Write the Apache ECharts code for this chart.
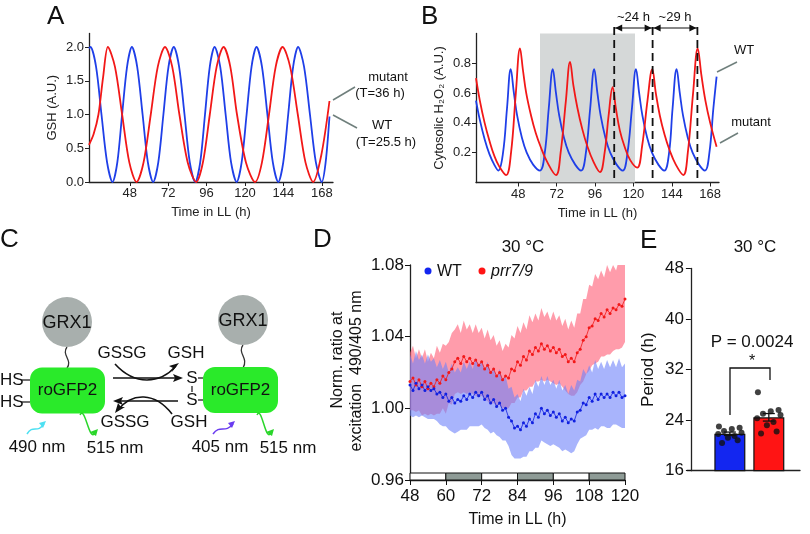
<!DOCTYPE html>
<html>
<head>
<meta charset="utf-8">
<script src="https://cdn.jsdelivr.net/npm/echarts@6.0.0/dist/echarts.min.js"></script>
<style>html,body{margin:0;padding:0;background:#fff}#main{width:810px;height:534px}</style>
</head>
<body>
<div id="main"></div>
<script>
// ---- panel A: model GSH (time h, value) ----
var gshWT = [[22.5,1.98],[23.4,2],[26.9,1.71],[30.3,1],[33.8,0.29],[37.2,0],[40.2,0.29],[43.2,1],[46.3,1.71],[49.3,2],[52.6,1.71],[56,1],[59.3,0.29],[62.6,0],[65.8,0.29],[69,1],[72.2,1.71],[75.5,2],[78.8,1.71],[82.2,1],[85.5,0.29],[88.9,0],[92,0.29],[95,1],[98,1.71],[101,2],[104.5,1.71],[107.9,1],[111.3,0.29],[114.8,0],[117.9,0.29],[121,1],[124.1,1.71],[127.2,2],[130.6,1.71],[134,1],[137.4,0.29],[140.8,0],[143.9,0.29],[147,1],[150.1,1.71],[153.2,2],[156.9,1.71],[160.6,1],[164.3,0.29],[168,0],[170.4,0.29],[172.8,0.97]];
var gshMut = [[22.5,0.55],[25.4,0.71],[28.4,1],[31.3,1.55],[34.3,2],[38.7,1.71],[43.2,1],[47.7,0.29],[52.2,0],[56.6,0.29],[61.1,1],[65.5,1.71],[70,2],[74.5,1.71],[79,1],[84.2,0.29],[89.5,0],[93.7,0.29],[98,1],[102.3,1.71],[106.6,2],[110.8,1.71],[115,1],[120.6,0.29],[126.3,0],[130.6,0.29],[135,1],[139.2,1.71],[143.5,2],[148.2,1.71],[153,1],[157.8,0.29],[162.6,0],[167.7,0.4],[172.8,1.2]];
var ticksA = [48,72,96,120,144,168];
var ticksAy = [0,0.5,1,1.5,2];

// ---- panel B: model cytosolic H2O2 ----
var h2o2WT = [[21.6,0.55],[24,0.42],[27,0.29],[30,0.19],[33,0.12],[35.5,0.08],[38.5,0.2],[41,0.5],[43.3,0.76],[45.3,0.6],[47.3,0.45],[50.3,0.3],[53.3,0.2],[57.3,0.12],[61.6,0.08],[64.6,0.2],[67.1,0.5],[69.6,0.76],[71.6,0.6],[73.6,0.45],[76.6,0.3],[79.6,0.2],[83.6,0.12],[87.3,0.08],[90.3,0.2],[93,0.5],[95.5,0.76],[97.5,0.6],[99.5,0.45],[102.5,0.3],[105.5,0.2],[109.5,0.12],[113.3,0.08],[116.3,0.2],[119.1,0.5],[121.6,0.76],[123.6,0.6],[125.6,0.45],[128.6,0.3],[131.6,0.2],[135.6,0.12],[139.3,0.08],[142.3,0.2],[144.5,0.5],[147,0.76],[149,0.6],[151,0.45],[154,0.3],[157,0.2],[161,0.12],[164.7,0.08],[167.5,0.2],[170,0.5],[172,0.71]];
var h2o2Mut = [[21.6,0.7],[24,0.55],[27,0.4],[30,0.28],[33,0.18],[36,0.11],[40.4,0.05],[43.5,0.2],[46.5,0.6],[49.1,0.9],[51,0.75],[53,0.6],[56,0.45],[59,0.33],[62,0.24],[66,0.14],[71.6,0.05],[74.5,0.2],[77.8,0.55],[80.4,0.81],[82.5,0.65],[85,0.5],[88,0.36],[91,0.25],[95,0.14],[99.1,0.07],[102,0.2],[104.5,0.45],[107,0.64],[109,0.5],[111.5,0.35],[114.5,0.24],[118,0.15],[122.4,0.1],[125.5,0.25],[128.8,0.55],[131.8,0.76],[134,0.6],[136.5,0.45],[139.5,0.32],[142.5,0.22],[146.5,0.12],[151.2,0.05],[154,0.2],[157.3,0.6],[160.2,0.9],[162.5,0.72],[165,0.55],[168,0.4],[172,0.24]];
var shadeB = [61.6, 121];
var dashB = [108, 132, 160];
var periodLabelsB = ['~24 h', '~29 h'];

// ---- panel D: roGFP2 ratio, hourly 48..120 h ----
var hoursD = [];
for (var h = 48; h <= 120; h++) hoursD.push(h);
var ratioMut = [1.015,1.017,1.013,1.016,1.012,1.015,1.011,1.014,1.012,1.016,1.014,1.018,1.016,1.020,1.022,1.026,1.028,1.025,1.029,1.026,1.028,1.025,1.027,1.024,1.026,1.022,1.024,1.020,1.022,1.018,1.020,1.016,1.018,1.017,1.022,1.021,1.026,1.024,1.029,1.027,1.032,1.030,1.034,1.032,1.036,1.033,1.035,1.032,1.034,1.031,1.033,1.029,1.030,1.026,1.028,1.026,1.031,1.033,1.038,1.040,1.045,1.046,1.050,1.049,1.053,1.051,1.055,1.053,1.056,1.055,1.058,1.057,1.061];
var sdMut = [0.016,0.018,0.015,0.017,0.016,0.018,0.015,0.017,0.016,0.019,0.017,0.018,
  0.019,0.017,0.02,0.018,0.019,0.017,0.02,0.018,0.019,0.017,0.02,0.018,
  0.019,0.017,0.02,0.018,0.019,0.017,0.018,0.016,0.018,0.017,0.019,0.018,
  0.02,0.018,0.019,0.017,0.02,0.018,0.019,0.017,0.02,0.018,0.019,0.017,
  0.02,0.018,0.019,0.017,0.02,0.018,0.021,0.019,0.022,0.02,0.023,0.021,
  0.024,0.022,0.025,0.023,0.024,0.022,0.025,0.023,0.024,0.022,0.025,0.023,0.024];
var ratioWT = [1.013,1.010,1.014,1.011,1.013,1.010,1.012,1.010,1.011,1.008,1.009,1.006,1.008,1.004,1.006,1.003,1.005,1.004,1.007,1.005,1.008,1.006,1.009,1.007,1.009,1.005,1.007,1.003,1.005,1.001,1.003,0.999,1.000,0.995,0.993,0.989,0.990,0.988,0.992,0.990,0.994,0.992,0.997,0.995,1.000,0.997,0.999,0.996,0.998,0.995,0.997,0.993,0.995,0.992,0.994,0.993,0.998,0.999,1.003,1.002,1.006,1.004,1.008,1.005,1.008,1.006,1.008,1.006,1.009,1.007,1.009,1.006,1.007];
var sdWT = [0.017,0.015,0.018,0.016,0.017,0.015,0.018,0.016,0.017,0.015,0.018,0.016,
  0.018,0.016,0.019,0.017,0.018,0.016,0.019,0.017,0.018,0.016,0.019,0.017,
  0.018,0.016,0.019,0.017,0.018,0.016,0.019,0.017,0.018,0.016,0.019,0.017,
  0.018,0.016,0.019,0.017,0.018,0.016,0.019,0.017,0.018,0.016,0.019,0.017,
  0.018,0.016,0.019,0.017,0.018,0.016,0.019,0.017,0.018,0.016,0.019,0.017,
  0.018,0.016,0.019,0.017,0.018,0.016,0.019,0.017,0.018,0.016,0.019,0.017,0.018];
// light/dark bar: [start, end, dark?]
var ldBars = [[48,60,0],[60,72,1],[72,84,0],[84,96,1],[96,108,0],[108,120,1]];

// ---- panel E: periods ----
var periodWT = [23.0,22.8,22.6,22.3,22.0,21.8,21.5,21.2,20.8,20.4];
var periodMut = [28.4,25.6,25.4,25.0,24.8,24.3,23.7,23.2,22.2,21.9];
var jitter = [-0.28,0.25,0.05,-0.15,0.3,-0.3,0.12,-0.05,0.2,-0.2];
var pText = 'P = 0.0024';

function mean(a){var s=0;a.forEach(function(v){s+=v;});return s/a.length;}
function sem(a){var m=mean(a),s=0;a.forEach(function(v){s+=(v-m)*(v-m);});return Math.sqrt(s/(a.length-1))/Math.sqrt(a.length);}

var FONT = 'Liberation Sans';
var BLUE = '#1f3fe8', RED = '#f21818';
var chart = echarts.init(document.getElementById('main'));

function zipD(vals){ return hoursD.map(function(t,i){return [t, vals[i]];}); }

// band polygon (mean +- sd) drawn in one custom item
function bandSeries(vals, sds, color){
  return {type:'custom', xAxisIndex:2, yAxisIndex:2, data:[[0]], silent:true,
    renderItem:function(params, api){
      var pts = [];
      hoursD.forEach(function(t,i){ pts.push(api.coord([t, vals[i] + sds[i]])); });
      for (var i = hoursD.length - 1; i >= 0; i--) pts.push(api.coord([hoursD[i], vals[i] - sds[i]]));
      var cs = params.coordSys;
      return {type:'polygon', shape:{points:pts}, style:{fill:color},
        clipPath:{type:'rect', shape:{x:cs.x, y:cs.y, width:cs.width, height:cs.height}}};
    }};
}

var axBase = {axisLine:{lineStyle:{color:'#222',width:1.3}}, axisTick:{lineStyle:{color:'#222'}}, splitLine:{show:false}};

function tx(text, x, y, size, opt) {
  opt = opt || {};
  return {type:'text', z:50, rotation: opt.rot || 0, x:x, y:y,
    style:{text:text, x:0, y:0, fill: opt.fill || '#111', font: (opt.style||'') + ' ' + size + 'px "' + FONT + '"',
      align: opt.align || 'center', verticalAlign: opt.va || 'middle'}};
}

var option = {
  animation:false,
  textStyle:{fontFamily:FONT},
  grid:[
    {left:89, top:33.5, width:244, height:148.5},
    {left:476, top:33.5, width:243, height:149},
    {left:410, top:265, width:215, height:215},
    {left:687, top:268.5, width:113, height:202.2}
  ],
  xAxis:[
    Object.assign({}, axBase, {gridIndex:0, type:'value', min:22.5, max:175,
      name:'Time in LL (h)', nameLocation:'middle', nameGap:24, nameTextStyle:{fontSize:13,color:'#222'},
      axisLabel:{customValues:ticksA, fontSize:13, color:'#222', margin:5}, axisTick:{customValues:ticksA, length:4, lineStyle:{color:'#222'}}}),
    Object.assign({}, axBase, {gridIndex:1, type:'value', min:21.6, max:173.5,
      name:'Time in LL (h)', nameLocation:'middle', nameGap:24, nameTextStyle:{fontSize:13,color:'#222'},
      axisLabel:{customValues:ticksA, fontSize:13, color:'#222', margin:5}, axisTick:{customValues:ticksA, length:4, lineStyle:{color:'#222'}}}),
    Object.assign({}, axBase, {gridIndex:2, type:'value', min:48, max:120, interval:12,
      name:'Time in LL (h)', nameLocation:'middle', nameGap:32, nameTextStyle:{fontSize:16,color:'#111'},
      axisLabel:{fontSize:17, color:'#111', margin:8}, axisTick:{length:5, lineStyle:{color:'#111'}}}),
    Object.assign({}, axBase, {gridIndex:3, type:'value', min:-0.1, max:2.8,
      axisLabel:{show:false}, axisTick:{show:false}})
  ],
  yAxis:[
    Object.assign({}, axBase, {gridIndex:0, type:'value', min:0, max:2.2,
      name:'GSH (A.U.)', nameLocation:'middle', nameGap:30, nameTextStyle:{fontSize:13,color:'#222'},
      axisLabel:{customValues:ticksAy, fontSize:13, color:'#222', margin:5, formatter:function(v){return v.toFixed(1);}},
      axisTick:{customValues:ticksAy, length:4, lineStyle:{color:'#222'}}}),
    Object.assign({}, axBase, {gridIndex:1, type:'value', min:0, max:1, interval:0.2,
      name:'Cytosolic H\u2082O\u2082 (A.U.)', nameLocation:'middle', nameGap:30, nameTextStyle:{fontSize:13,color:'#222'},
      axisLabel:{fontSize:13, color:'#222', margin:5, showMinLabel:false, showMaxLabel:false, formatter:function(v){return v.toFixed(1);}},
      axisTick:{length:4, lineStyle:{color:'#222'}}}),
    Object.assign({}, axBase, {gridIndex:2, type:'value', min:0.96, max:1.08, interval:0.04,
      axisLabel:{fontSize:17, color:'#111', margin:6, formatter:function(v){return v.toFixed(2);}},
      axisTick:{length:5, lineStyle:{color:'#111'}}}),
    Object.assign({}, axBase, {gridIndex:3, type:'value', min:16, max:48, interval:8,
      name:'Period (h)', nameLocation:'middle', nameGap:30, nameTextStyle:{fontSize:17,color:'#111'},
      axisLabel:{fontSize:17, color:'#111', margin:3}, axisTick:{length:5, lineStyle:{color:'#111'}}})
  ],
  series:[
    {type:'line', xAxisIndex:0, yAxisIndex:0, data:gshWT, smooth:0.3, symbol:'none', lineStyle:{color:BLUE,width:1.8}},
    {type:'line', xAxisIndex:0, yAxisIndex:0, data:gshMut, smooth:0.3, symbol:'none', lineStyle:{color:RED,width:1.8}},
    {type:'line', xAxisIndex:1, yAxisIndex:1, data:h2o2WT, smooth:0.4, symbol:'none', lineStyle:{color:BLUE,width:1.8},
      markArea:{silent:true, itemStyle:{color:'#d5d8d8'}, data:[[{xAxis:shadeB[0]},{xAxis:shadeB[1]}]]}},
    {type:'line', xAxisIndex:1, yAxisIndex:1, data:h2o2Mut, smooth:0.4, symbol:'none', lineStyle:{color:RED,width:1.8}},
    // D bands and means
    bandSeries(ratioMut, sdMut, 'rgba(255,95,120,0.62)'),
    {type:'line', xAxisIndex:2, yAxisIndex:2, data:zipD(ratioMut), symbol:'circle', symbolSize:3,
      lineStyle:{color:RED,width:0.8}, itemStyle:{color:RED}},
    bandSeries(ratioWT, sdWT, 'rgba(110,130,250,0.6)'),
    {type:'line', xAxisIndex:2, yAxisIndex:2, data:zipD(ratioWT), symbol:'circle', symbolSize:3,
      lineStyle:{color:'#1020e0',width:0.8}, itemStyle:{color:'#1020e0'}},
    {type:'custom', xAxisIndex:2, yAxisIndex:2, data:ldBars, z:10,
      renderItem:function(params, api){
        var p0 = api.coord([api.value(0), 0.9639]), p1 = api.coord([api.value(1), 0.96]);
        return {type:'rect', shape:{x:p0[0], y:p0[1], width:p1[0]-p0[0], height:p1[1]-p0[1]},
          style:{fill: api.value(2) ? '#8e9b96' : '#ffffff', stroke:'#111', lineWidth:1}};
      }},
    // E
    {type:'bar', xAxisIndex:3, yAxisIndex:3, barWidth:31,
      data:[{value:[1, mean(periodWT)], itemStyle:{color:'#1326f0'}}, {value:[2, mean(periodMut)], itemStyle:{color:'#ff1414'}}],
      itemStyle:{borderColor:'#111', borderWidth:1.2}},
    {type:'custom', xAxisIndex:3, yAxisIndex:3, z:5,
      data:[[1, mean(periodWT), sem(periodWT)], [2, mean(periodMut), sem(periodMut)]],
      renderItem:function(params, api){
        var x = api.value(0), m = api.value(1), s = api.value(2);
        var top = api.coord([x, m + s]), bot = api.coord([x, m - s]);
        var st = {stroke:'#111', lineWidth:1.3};
        return {type:'group', children:[
          {type:'line', shape:{x1:top[0], y1:top[1], x2:bot[0], y2:bot[1]}, style:st},
          {type:'line', shape:{x1:top[0]-6, y1:top[1], x2:top[0]+6, y2:top[1]}, style:st},
          {type:'line', shape:{x1:bot[0]-6, y1:bot[1], x2:bot[0]+6, y2:bot[1]}, style:st}]};
      }},
    {type:'scatter', xAxisIndex:3, yAxisIndex:3, symbolSize:6, itemStyle:{color:'#111'}, z:6,
      data:periodWT.map(function(v,i){return [1 + jitter[i], v];})},
    {type:'scatter', xAxisIndex:3, yAxisIndex:3, symbolSize:6, itemStyle:{color:'#111'}, z:6,
      data:periodMut.map(function(v,i){return [2 + jitter[i], v];})}
  ]
};
chart.setOption(option);

// annotations
var g = [];
['A','B','C','D','E'].forEach(function(l, i){
  var pos = [[47,17],[421,17],[0,240],[313,240],[640,241]][i];
  g.push(tx(l, pos[0], pos[1], 26, {align:'left'}));
});
// A side labels
g.push({type:'line', shape:{x1:333,y1:100,x2:355,y2:87}, style:{stroke:'#6f7f7c',lineWidth:1.5}});
g.push({type:'line', shape:{x1:333,y1:115,x2:357,y2:128}, style:{stroke:'#6f7f7c',lineWidth:1.5}});
g.push(tx('mutant', 388, 77, 13)); g.push(tx('(T=36 h)', 380, 93, 13));
g.push(tx('WT', 382, 125, 13)); g.push(tx('(T=25.5 h)', 386, 142, 13));
// B side labels
g.push({type:'line', shape:{x1:717,y1:72,x2:737,y2:62}, style:{stroke:'#6f7f7c',lineWidth:1.5}});
g.push({type:'line', shape:{x1:720,y1:143,x2:738,y2:133}, style:{stroke:'#6f7f7c',lineWidth:1.5}});
g.push(tx('WT', 744, 50, 13)); g.push(tx('mutant', 751, 122, 13));
// B dashed lines and period arrows
var dx = dashB.map(function(t){return chart.convertToPixel({xAxisIndex:1}, t);});
var yBase = chart.convertToPixel({yAxisIndex:1}, 0);
dx.forEach(function(x){
  g.push({type:'line', z:40, shape:{x1:x,y1:27,x2:x,y2:yBase}, style:{stroke:'#111',lineWidth:1.8,lineDash:[8,5]}});
});
function arrowHead(x, y, dir){
  return {type:'polygon', z:41, shape:{points:[[x,y],[x-dir*7,y-3.5],[x-dir*7,y+3.5]]}, style:{fill:'#111'}};
}
for (var k = 0; k < 2; k++) {
  var xa = dx[k], xb = dx[k+1];
  g.push({type:'line', z:40, shape:{x1:xa,y1:28,x2:xb,y2:28}, style:{stroke:'#111',lineWidth:1.2}});
  g.push(arrowHead(xa+1, 28, -1)); g.push(arrowHead(xb-1, 28, 1));
  g.push(tx(periodLabelsB[k], (xa+xb)/2, 17, 13));
}
// D titles/legend
g.push(tx('30 \u00b0C', 523, 247, 17));
g.push({type:'circle', z:50, shape:{cx:428,cy:271,r:3.5}, style:{fill:'#1326f0'}});
g.push(tx('WT', 437, 272, 16, {align:'left'}));
g.push({type:'circle', z:50, shape:{cx:482,cy:271,r:3.5}, style:{fill:'#ff1414'}});
g.push(tx('prr7/9', 491, 272, 16, {align:'left', style:'italic'}));
g.push(tx('Norm. ratio at', 338, 360, 16, {rot:Math.PI/2}));
g.push(tx('excitation  490/405 nm', 357, 371, 16, {rot:Math.PI/2}));
// E title, P value, bracket
g.push(tx('30 \u00b0C', 755, 247, 17));
g.push(tx(pText, 752, 342, 17));
g.push({type:'polyline', shape:{points:[[730,415],[730,368],[770,368],[770,380]]}, style:{stroke:'#111',lineWidth:1.3,fill:null}});
g.push(tx('*', 752, 362, 16));

// C schematic
var GREEN = '#2aea2a', GREY = '#a8afad';
[[67,322],[243,320]].forEach(function(c){
  g.push({type:'bezierCurve', shape:{x1:c[0],y1:c[1]+25,cpx1:c[0]-6,cpy1:c[1]+33,cpx2:c[0]+6,cpy2:c[1]+38,x2:c[0],y2:368}, style:{stroke:'#333',lineWidth:1.3,fill:null}});
  g.push({type:'circle', shape:{cx:c[0],cy:c[1],r:25}, style:{fill:GREY}});
  g.push(tx('GRX1', c[0], c[1]+1, 18));
});
g.push({type:'rect', shape:{x:30,y:367.5,width:75,height:46,r:12}, style:{fill:GREEN}});
g.push({type:'rect', shape:{x:203,y:367,width:75,height:46,r:12}, style:{fill:GREEN}});
g.push(tx('roGFP2', 67.5, 390, 17)); g.push(tx('roGFP2', 240.5, 390, 17));
g.push(tx('HS', 0, 380, 17, {align:'left'})); g.push(tx('HS', 0, 402, 17, {align:'left'}));
g.push({type:'line', shape:{x1:22,y1:380,x2:30,y2:380}, style:{stroke:'#111',lineWidth:1.2}});
g.push({type:'line', shape:{x1:22,y1:402,x2:30,y2:402}, style:{stroke:'#111',lineWidth:1.2}});
g.push(tx('S', 192, 378, 17)); g.push(tx('S', 192, 400, 17));
g.push({type:'line', shape:{x1:198,y1:378,x2:203,y2:378}, style:{stroke:'#111',lineWidth:1.2}});
g.push({type:'line', shape:{x1:198,y1:400,x2:203,y2:400}, style:{stroke:'#111',lineWidth:1.2}});
g.push({type:'line', shape:{x1:192,y1:386,x2:192,y2:392}, style:{stroke:'#111',lineWidth:1.2}});
g.push(tx('GSSG', 122, 353, 17)); g.push(tx('GSH', 186, 353, 17));
g.push(tx('GSSG', 125, 422, 17)); g.push(tx('GSH', 189, 422, 17));
var ar = {stroke:'#111', lineWidth:1.6, fill:null};
g.push({type:'line', shape:{x1:113,y1:378,x2:180,y2:378}, style:ar});
g.push({type:'polygon', shape:{points:[[183,378],[173,374],[175,378],[173,382]]}, style:{fill:'#111'}});
g.push({type:'bezierCurve', shape:{x1:115,y1:364,cpx1:135,cpy1:386,cpx2:160,cpy2:384,x2:176,y2:366}, style:ar});
g.push({type:'polygon', shape:{points:[[179,363],[169,366],[173,368],[172,372]]}, style:{fill:'#111'}});
g.push({type:'line', shape:{x1:178,y1:401,x2:117,y2:401}, style:ar});
g.push({type:'polygon', shape:{points:[[113,401],[123,397],[121,401],[123,405]]}, style:{fill:'#111'}});
g.push({type:'bezierCurve', shape:{x1:172,y1:414,cpx1:155,cpy1:392,cpx2:132,cpy2:392,x2:118,y2:410}, style:ar});
g.push({type:'polygon', shape:{points:[[115,413],[118,403],[121,407],[125,407]]}, style:{fill:'#111'}});
function wave(x1,y1,x2,y2,col,up){
  g.push({type:'bezierCurve', shape:{x1:x1,y1:y1,cpx1:x1+(x2-x1)*0.35,cpy1:y1-10,cpx2:x1+(x2-x1)*0.6,cpy2:y2+10,x2:x2,y2:y2}, style:{stroke:col,lineWidth:1.5,fill:null}});
  g.push({type:'polygon', shape:{points: up ? [[x2+2,y2-3],[x2-5,y2-1],[x2-1,y2+4]] : [[x2+1,y2+3],[x2-5,y2-1],[x2+3,y2-4]]}, style:{fill:col}});
}
wave(27,434,44,424,'#4de0f2',true);
wave(80,415,95,433,'#2ad62a',false);
wave(213,434,233,424,'#6a3cf0',true);
wave(257,415,271,433,'#2ad62a',false);
g.push(tx('490 nm', 37, 447, 17)); g.push(tx('515 nm', 115, 448, 17));
g.push(tx('405 nm', 220, 447, 17)); g.push(tx('515 nm', 288, 448, 17));

chart.setOption({graphic:{elements:g}});
</script>
</body>
</html>
